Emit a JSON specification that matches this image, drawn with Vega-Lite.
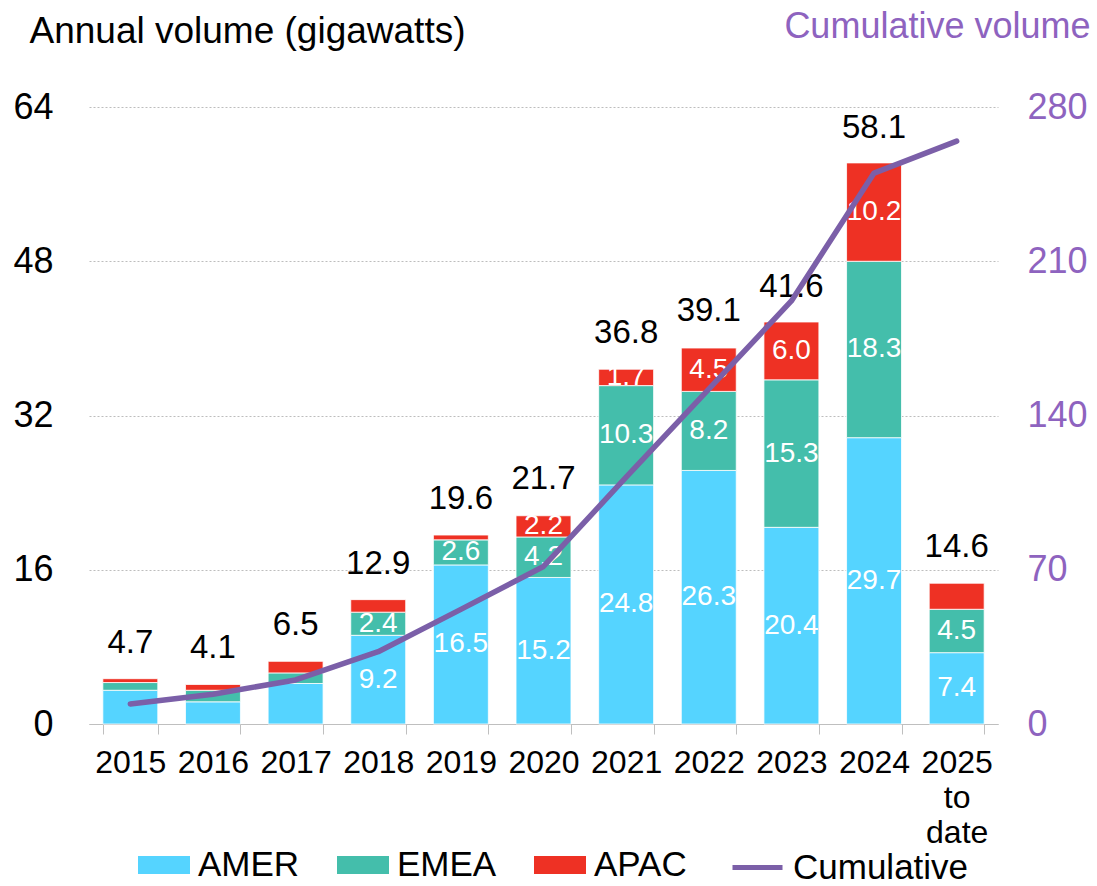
{
  "$schema": "https://vega.github.io/schema/vega-lite/v6.json",
  "width": 909,
  "height": 617,
  "autosize": {"type": "none"},
  "padding": {"left": 89, "top": 107, "right": 99, "bottom": 162},
  "background": "white",
  "config": {
    "view": {"stroke": null},
    "font": "Liberation Sans",
    "text": {"font": "Liberation Sans"}
  },
  "datasets": {
    "bars": [
      {"year": "2015", "region": "AMER", "order": 1, "value": 3.5, "label": ""},
      {"year": "2015", "region": "EMEA", "order": 2, "value": 0.8, "label": ""},
      {"year": "2015", "region": "APAC", "order": 3, "value": 0.4, "label": ""},
      {"year": "2016", "region": "AMER", "order": 1, "value": 2.3, "label": ""},
      {"year": "2016", "region": "EMEA", "order": 2, "value": 1.2, "label": ""},
      {"year": "2016", "region": "APAC", "order": 3, "value": 0.6, "label": ""},
      {"year": "2017", "region": "AMER", "order": 1, "value": 4.2, "label": ""},
      {"year": "2017", "region": "EMEA", "order": 2, "value": 1.1, "label": ""},
      {"year": "2017", "region": "APAC", "order": 3, "value": 1.2, "label": ""},
      {"year": "2018", "region": "AMER", "order": 1, "value": 9.2, "label": "9.2"},
      {"year": "2018", "region": "EMEA", "order": 2, "value": 2.4, "label": "2.4"},
      {"year": "2018", "region": "APAC", "order": 3, "value": 1.3, "label": ""},
      {"year": "2019", "region": "AMER", "order": 1, "value": 16.5, "label": "16.5"},
      {"year": "2019", "region": "EMEA", "order": 2, "value": 2.6, "label": "2.6"},
      {"year": "2019", "region": "APAC", "order": 3, "value": 0.5, "label": ""},
      {"year": "2020", "region": "AMER", "order": 1, "value": 15.2, "label": "15.2"},
      {"year": "2020", "region": "EMEA", "order": 2, "value": 4.2, "label": "4.2"},
      {"year": "2020", "region": "APAC", "order": 3, "value": 2.2, "label": "2.2"},
      {"year": "2021", "region": "AMER", "order": 1, "value": 24.8, "label": "24.8"},
      {"year": "2021", "region": "EMEA", "order": 2, "value": 10.3, "label": "10.3"},
      {"year": "2021", "region": "APAC", "order": 3, "value": 1.7, "label": "1.7"},
      {"year": "2022", "region": "AMER", "order": 1, "value": 26.3, "label": "26.3"},
      {"year": "2022", "region": "EMEA", "order": 2, "value": 8.2, "label": "8.2"},
      {"year": "2022", "region": "APAC", "order": 3, "value": 4.5, "label": "4.5"},
      {"year": "2023", "region": "AMER", "order": 1, "value": 20.4, "label": "20.4"},
      {"year": "2023", "region": "EMEA", "order": 2, "value": 15.3, "label": "15.3"},
      {"year": "2023", "region": "APAC", "order": 3, "value": 6.0, "label": "6.0"},
      {"year": "2024", "region": "AMER", "order": 1, "value": 29.7, "label": "29.7"},
      {"year": "2024", "region": "EMEA", "order": 2, "value": 18.3, "label": "18.3"},
      {"year": "2024", "region": "APAC", "order": 3, "value": 10.2, "label": "10.2"},
      {"year": "2025 to date", "region": "AMER", "order": 1, "value": 7.4, "label": "7.4"},
      {"year": "2025 to date", "region": "EMEA", "order": 2, "value": 4.5, "label": "4.5"},
      {"year": "2025 to date", "region": "APAC", "order": 3, "value": 2.7, "label": ""}
    ],
    "totals": [
      {"year": "2015", "total": 4.7, "text": "4.7"},
      {"year": "2016", "total": 4.1, "text": "4.1"},
      {"year": "2017", "total": 6.5, "text": "6.5"},
      {"year": "2018", "total": 12.9, "text": "12.9"},
      {"year": "2019", "total": 19.6, "text": "19.6"},
      {"year": "2020", "total": 21.7, "text": "21.7"},
      {"year": "2021", "total": 36.8, "text": "36.8"},
      {"year": "2022", "total": 39.1, "text": "39.1"},
      {"year": "2023", "total": 41.6, "text": "41.6"},
      {"year": "2024", "total": 58.1, "text": "58.1"},
      {"year": "2025 to date", "total": 14.6, "text": "14.6"}
    ],
    "cumulative": [
      {"year": "2015", "cumulative": 9.1, "series": "Cumulative"},
      {"year": "2016", "cumulative": 13.5, "series": "Cumulative"},
      {"year": "2017", "cumulative": 20.0, "series": "Cumulative"},
      {"year": "2018", "cumulative": 32.8, "series": "Cumulative"},
      {"year": "2019", "cumulative": 52.0, "series": "Cumulative"},
      {"year": "2020", "cumulative": 71.5, "series": "Cumulative"},
      {"year": "2021", "cumulative": 112.0, "series": "Cumulative"},
      {"year": "2022", "cumulative": 152.0, "series": "Cumulative"},
      {"year": "2023", "cumulative": 192.0, "series": "Cumulative"},
      {"year": "2024", "cumulative": 250.0, "series": "Cumulative"},
      {"year": "2025 to date", "cumulative": 264.5, "series": "Cumulative"}
    ]
  },
  "layer": [
    {
      "layer": [
        {
          "data": {"name": "bars"},
          "transform": [
            {"stack": "value", "groupby": ["year"], "sort": [{"field": "order", "order": "ascending"}], "as": ["y0", "y1"]}
          ],
          "mark": {"type": "bar", "stroke": "white", "strokeWidth": 0.8},
          "encoding": {
            "x": {
              "field": "year",
              "type": "nominal",
              "scale": {
                "domain": ["2015", "2016", "2017", "2018", "2019", "2020", "2021", "2022", "2023", "2024", "2025 to date"],
                "paddingInner": 0.335,
                "paddingOuter": 0.1675
              },
              "axis": {
                "title": null,
                "labelAngle": 0,
                "labelExpr": "split(datum.label, ' ')",
                "labelFontSize": 32,
                "labelColor": "#000000",
                "labelLineHeight": 35,
                "labelPadding": 13,
                "labelBaseline": "top",
                "tickBand": "extent",
                "tickSize": 10,
                "tickColor": "#BFBFBF",
                "tickWidth": 1,
                "domainColor": "#BFBFBF",
                "domainWidth": 1,
                "grid": false
              }
            },
            "y": {
              "field": "y1",
              "type": "quantitative",
              "scale": {"domain": [0, 64], "nice": false},
              "axis": {
                "title": "Annual volume (gigawatts)",
                "titleAngle": 0,
                "titleAlign": "left",
                "titleBaseline": "alphabetic",
                "titleX": -60,
                "titleY": -65,
                "titleFontSize": 37,
                "titleFontWeight": "normal",
                "titleColor": "#000000",
                "values": [0, 16, 32, 48, 64],
                "labelFontSize": 36,
                "labelColor": "#000000",
                "labelPadding": 36,
                "labelAlign": "right",
                "ticks": false,
                "tickSize": 0,
                "domain": false,
                "grid": true,
                "gridColor": "#BDBDBD",
                "gridDash": [2, 2],
                "gridWidth": 1
              }
            },
            "y2": {"field": "y0"},
            "fill": {
              "field": "region",
              "type": "nominal",
              "scale": {"domain": ["AMER", "EMEA", "APAC"], "range": ["#55D4FF", "#44BEAB", "#EE3124"]},
              "legend": {
                "title": null,
                "orient": "none",
                "legendX": 49,
                "legendY": 732,
                "direction": "horizontal",
                "columns": 3,
                "symbolType": "M-1,-0.35H1V0.35H-1Z",
                "symbolSize": 2704,
                "symbolStrokeWidth": 0,
                "labelFontSize": 35,
                "labelColor": "#000000",
                "labelLimit": 400,
                "labelOffset": 8,
                "columnPadding": 37,
                "padding": 0
              }
            }
          }
        },
        {
          "data": {"name": "bars"},
          "transform": [
            {"stack": "value", "groupby": ["year"], "sort": [{"field": "order", "order": "ascending"}], "as": ["y0", "y1"]},
            {"filter": "datum.label != ''"},
            {"fold": ["y0", "y1"], "as": ["edge", "pos"]},
            {"aggregate": [{"op": "mean", "field": "pos", "as": "mid"}], "groupby": ["year", "label"]}
          ],
          "mark": {"type": "text", "color": "#FFFFFF", "fontSize": 28, "baseline": "middle", "align": "center"},
          "encoding": {
            "x": {"field": "year", "type": "nominal"},
            "y": {
              "field": "mid",
              "type": "quantitative",
              "scale": {"domain": [0, 64], "nice": false},
              "axis": {
                "title": "Annual volume (gigawatts)",
                "titleAngle": 0,
                "titleAlign": "left",
                "titleBaseline": "alphabetic",
                "titleX": -60,
                "titleY": -65,
                "titleFontSize": 37,
                "titleFontWeight": "normal",
                "titleColor": "#000000",
                "values": [0, 16, 32, 48, 64],
                "labelFontSize": 36,
                "labelColor": "#000000",
                "labelPadding": 36,
                "labelAlign": "right",
                "ticks": false,
                "tickSize": 0,
                "domain": false,
                "grid": true,
                "gridColor": "#BDBDBD",
                "gridDash": [2, 2],
                "gridWidth": 1
              }
            },
            "text": {"field": "label", "type": "nominal"}
          }
        },
        {
          "data": {"name": "totals"},
          "mark": {"type": "text", "color": "#000000", "fontSize": 33, "baseline": "alphabetic", "align": "center", "dy": -26},
          "encoding": {
            "x": {"field": "year", "type": "nominal"},
            "y": {
              "field": "total",
              "type": "quantitative",
              "scale": {"domain": [0, 64], "nice": false},
              "axis": {
                "title": "Annual volume (gigawatts)",
                "titleAngle": 0,
                "titleAlign": "left",
                "titleBaseline": "alphabetic",
                "titleX": -60,
                "titleY": -65,
                "titleFontSize": 37,
                "titleFontWeight": "normal",
                "titleColor": "#000000",
                "values": [0, 16, 32, 48, 64],
                "labelFontSize": 36,
                "labelColor": "#000000",
                "labelPadding": 36,
                "labelAlign": "right",
                "ticks": false,
                "tickSize": 0,
                "domain": false,
                "grid": true,
                "gridColor": "#BDBDBD",
                "gridDash": [2, 2],
                "gridWidth": 1
              }
            },
            "text": {"field": "text", "type": "nominal"}
          }
        }
      ]
    },
    {
      "data": {"name": "cumulative"},
      "mark": {"type": "line", "strokeWidth": 5.5, "strokeCap": "round", "strokeJoin": "round"},
      "encoding": {
        "x": {"field": "year", "type": "nominal"},
        "y": {
          "field": "cumulative",
          "type": "quantitative",
          "scale": {"domain": [0, 280], "nice": false},
          "axis": {
            "orient": "right",
            "title": "Cumulative volume",
            "titleAngle": 0,
            "titleAlign": "right",
            "titleBaseline": "alphabetic",
            "titleX": 92,
            "titleY": -70,
            "titleFontSize": 36,
            "titleFontWeight": "normal",
            "titleColor": "#8E63BF",
            "values": [0, 70, 140, 210, 280],
            "labelFontSize": 36,
            "labelColor": "#8E63BF",
            "labelPadding": 29,
            "labelAlign": "left",
            "ticks": false,
            "tickSize": 0,
            "domain": false,
            "grid": false
          }
        },
        "stroke": {
          "field": "series",
          "type": "nominal",
          "scale": {"domain": ["Cumulative"], "range": ["#7B5FA8"]},
          "legend": {
            "title": null,
            "orient": "none",
            "legendX": 641,
            "legendY": 733,
            "direction": "horizontal",
            "symbolType": "stroke",
            "symbolSize": 2500,
            "symbolStrokeWidth": 5,
            "labelFontSize": 35,
            "labelColor": "#000000",
            "labelLimit": 400,
            "labelOffset": 8,
            "padding": 0
          }
        }
      }
    }
  ],
  "resolve": {"scale": {"y": "independent"}}
}
